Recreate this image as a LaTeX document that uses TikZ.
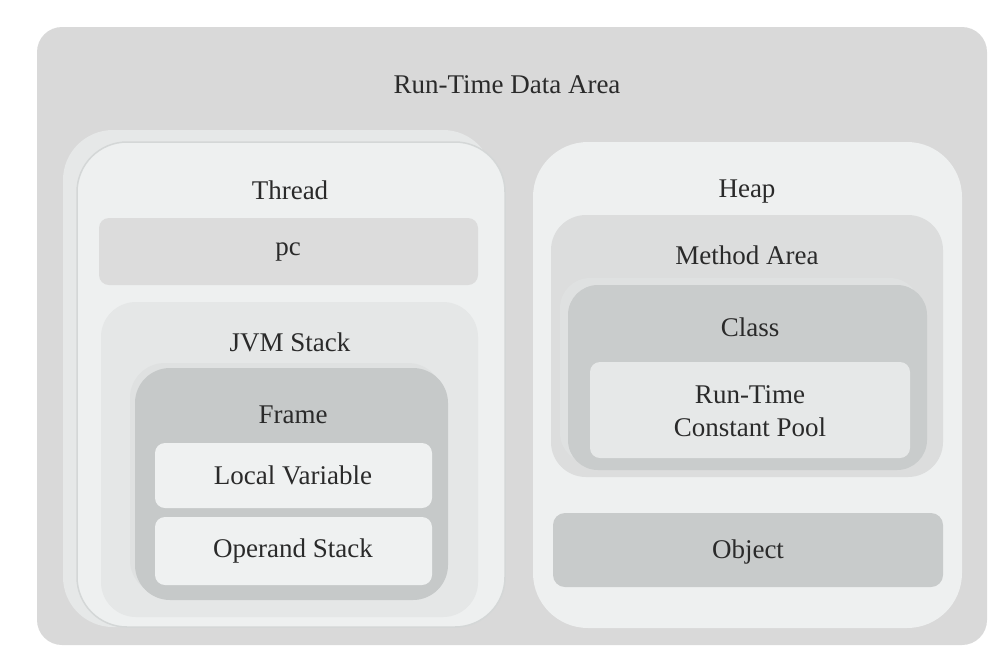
\documentclass[tikz,border=0pt]{standalone}
\usepackage{fontspec}
\setmainfont{Liberation Serif}
\definecolor{outerc}{HTML}{D9D9D9}
\definecolor{lightc}{HTML}{EEF0F0}
\definecolor{backc}{HTML}{E6E8E8}
\definecolor{edgec}{HTML}{D4D7D7}
\definecolor{pcc}{HTML}{DCDCDC}
\definecolor{jvmc}{HTML}{E5E7E7}
\definecolor{framec}{HTML}{C6C9C9}
\definecolor{ringc}{HTML}{DFE1E1}
\definecolor{slotc}{HTML}{EFF1F1}
\definecolor{methc}{HTML}{DCDDDD}
\definecolor{classc}{HTML}{C9CCCC}
\definecolor{poolc}{HTML}{E6E8E8}
\definecolor{objc}{HTML}{C8CBCB}
\definecolor{txtc}{HTML}{2A2A2A}
\tikzset{
  box/.style={rectangle, draw=none, inner sep=0pt},
  txt/.style={inner sep=0pt, text=txtc, font=\fontsize{27}{33}\selectfont, align=center}
}
\begin{document}
\begin{tikzpicture}[x=1pt,y=-1pt]
\useasboundingbox (0,0) rectangle (1007,657);
% outer
\node[box, fill=outerc, rounded corners=25pt, minimum width=950pt, minimum height=618pt] (outer) at (512,336) {};
\node[txt] (rtda) at (507,85) {Run-Time Data Area};
% thread
\node[box, fill=backc, rounded corners=50pt, minimum width=430pt, minimum height=497pt] (threadback) at (278,378.5) {};
\node[box, fill=lightc, draw=edgec, line width=1.5pt, rounded corners=50pt, minimum width=428pt, minimum height=485pt] (thread) at (291,384.5) {};
\node[txt] (threadl) at (290,190) {Thread};
\node[box, fill=pcc, rounded corners=10pt, minimum width=379pt, minimum height=67pt] (pc) at (288.5,251.5) {};
\node[txt] (pcl) at (288,252) {pc};
\node[box, fill=jvmc, rounded corners=35pt, minimum width=377pt, minimum height=315pt] (jvm) at (289.5,459.5) {};
\node[txt] (jvml) at (290,342) {JVM Stack};
\node[box, fill=ringc, rounded corners=35pt, minimum width=313pt, minimum height=232pt] (frameback) at (286.5,479) {};
\node[box, fill=framec, rounded corners=35pt, minimum width=313pt, minimum height=232pt] (frame) at (291.5,484) {};
\node[txt] (framel) at (293,415) {Frame};
\node[box, fill=slotc, rounded corners=10pt, minimum width=277pt, minimum height=65pt] (local) at (293.5,475.5) {};
\node[txt] (locall) at (293,475) {Local Variable};
\node[box, fill=slotc, rounded corners=10pt, minimum width=277pt, minimum height=68pt] (operand) at (293.5,551) {};
\node[txt] (operandl) at (293,551) {Operand Stack};
% heap
\node[box, fill=lightc, rounded corners=55pt, minimum width=429pt, minimum height=486pt] (heap) at (747.5,385) {};
\node[txt] (heapl) at (747,192) {Heap};
\node[box, fill=methc, rounded corners=35pt, minimum width=392pt, minimum height=262pt] (meth) at (747,346) {};
\node[txt] (methl) at (747,255) {Method Area};
\node[box, fill=ringc, rounded corners=30pt, minimum width=360pt, minimum height=185pt] (classback) at (740,370.5) {};
\node[box, fill=classc, rounded corners=30pt, minimum width=359pt, minimum height=185pt] (class) at (747.5,377.5) {};
\node[txt] (classl) at (750,327) {Class};
\node[box, fill=poolc, rounded corners=10pt, minimum width=320pt, minimum height=96pt] (pool) at (750,410) {};
\node[txt] (pooll) at (750,411) {Run-Time\\Constant Pool};
\node[box, fill=objc, rounded corners=12pt, minimum width=390pt, minimum height=74pt] (obj) at (748,550) {};
\node[txt] (objl) at (748,552) {Object};
\end{tikzpicture}
\end{document}
